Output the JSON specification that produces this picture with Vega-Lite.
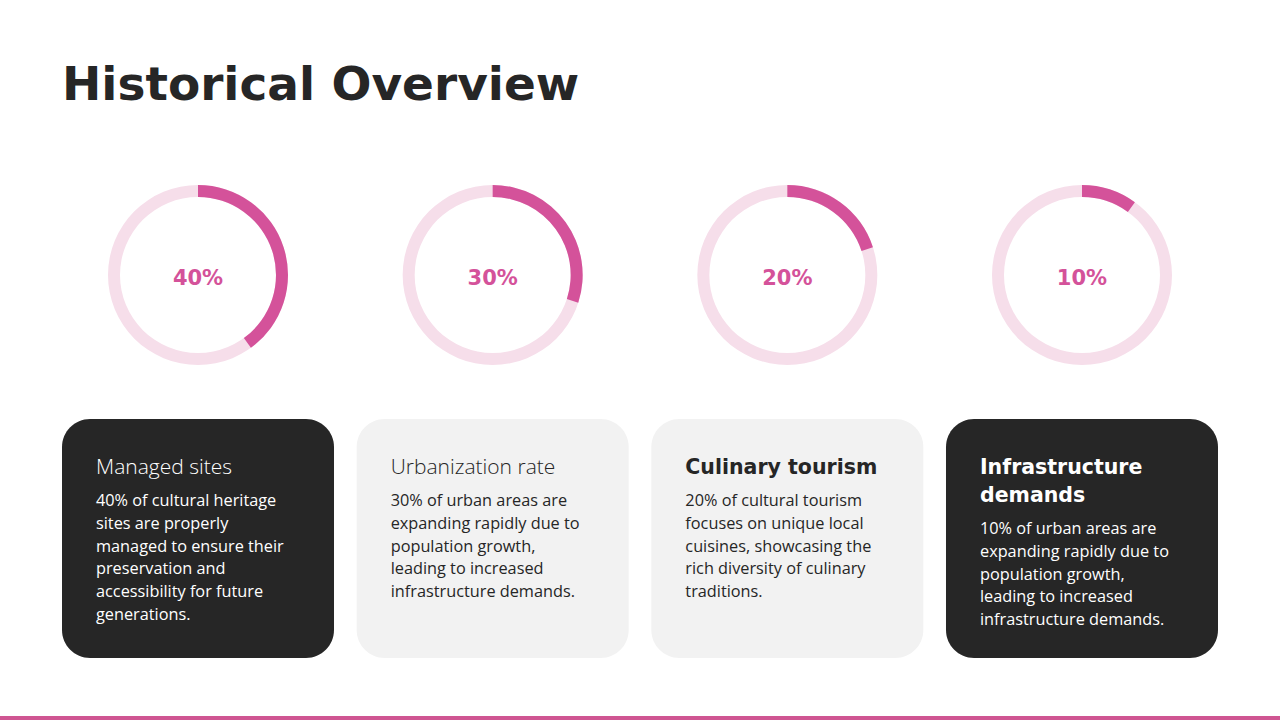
{
  "$schema": "https://vega.github.io/schema/vega-lite/v6.json",
  "width": 1280,
  "height": 720,
  "autosize": {"type": "none"},
  "padding": 0,
  "background": "#FFFFFF",
  "config": {"view": {"stroke": null}},
  "data": {
    "values": [
      {"category": "Managed sites", "pct": 40, "label": "40%", "heading": "Managed sites", "body": "40% of cultural heritage\nsites are properly\nmanaged to ensure their\npreservation and\naccessibility for future\ngenerations."},
      {"category": "Urbanization rate", "pct": 30, "label": "30%", "heading": "Urbanization rate", "body": "30% of urban areas are\nexpanding rapidly due to\npopulation growth,\nleading to increased\ninfrastructure demands."},
      {"category": "Culinary tourism", "pct": 20, "label": "20%", "heading": "Culinary tourism", "body": "20% of cultural tourism\nfocuses on unique local\ncuisines, showcasing the\nrich diversity of culinary\ntraditions."},
      {"category": "Infrastructure demands", "pct": 10, "label": "10%", "heading": "Infrastructure\ndemands", "body": "10% of urban areas are\nexpanding rapidly due to\npopulation growth,\nleading to increased\ninfrastructure demands."}
    ]
  },
  "layer": [
    {
      "transform": [{"filter": "datum.category === 'Managed sites'"}],
      "mark": {"type": "text", "text": "Historical Overview", "font": "DejaVu Sans", "fontWeight": "bold", "fontSize": 47, "align": "left", "baseline": "alphabetic", "color": "#262626"},
      "encoding": {
        "x": {"field": "category", "type": "nominal", "bandPosition": 0, "sort": null, "axis": null, "scale": {"range": [62, 1218], "paddingInner": 0.0769, "paddingOuter": 0}},
        "y": {"datum": 100, "type": "quantitative", "axis": null, "scale": {"domain": [0, 720], "reverse": true, "nice": false, "zero": false}}
      }
    },
    {
      "mark": {"type": "arc", "innerRadius": 78, "outerRadius": 90, "theta": 0, "theta2": 6.2832, "color": "#F6DEEA"},
      "encoding": {
        "x": {"field": "category", "type": "nominal", "sort": null, "axis": null},
        "y": {"datum": 275, "type": "quantitative"}
      }
    },
    {
      "mark": {"type": "arc", "innerRadius": 78, "outerRadius": 90, "color": "#D4529A"},
      "encoding": {
        "x": {"field": "category", "type": "nominal", "sort": null, "axis": null},
        "y": {"datum": 275, "type": "quantitative"},
        "theta": {"field": "pct", "type": "quantitative", "stack": null, "scale": {"domain": [0, 100], "range": [0, 6.2832]}}
      }
    },
    {
      "mark": {"type": "text", "font": "DejaVu Sans", "fontWeight": "bold", "fontSize": 21, "align": "center", "baseline": "alphabetic", "color": "#D4529A"},
      "encoding": {
        "x": {"field": "category", "type": "nominal", "sort": null, "axis": null},
        "y": {"datum": 285, "type": "quantitative"},
        "text": {"field": "label"}
      }
    },
    {
      "mark": {"type": "rect", "cornerRadius": 28},
      "encoding": {
        "x": {"field": "category", "type": "nominal", "sort": null, "axis": null},
        "y": {"datum": 419, "type": "quantitative"},
        "y2": {"datum": 658},
        "fill": {"field": "category", "type": "nominal", "legend": null, "scale": {"domain": ["Managed sites", "Urbanization rate", "Culinary tourism", "Infrastructure demands"], "range": ["#262626", "#F2F2F2", "#F2F2F2", "#262626"]}}
      }
    },
    {
      "transform": [{"filter": "datum.category === 'Managed sites' || datum.category === 'Urbanization rate'"}],
      "mark": {"type": "text", "font": "Open Sans", "fontWeight": 300, "fontSize": 21, "align": "left", "baseline": "alphabetic", "dx": 34},
      "encoding": {
        "x": {"field": "category", "type": "nominal", "bandPosition": 0, "sort": null, "axis": null},
        "y": {"datum": 474, "type": "quantitative"},
        "text": {"field": "heading"},
        "color": {"field": "category", "type": "nominal", "legend": null, "scale": {"domain": ["Managed sites", "Urbanization rate", "Culinary tourism", "Infrastructure demands"], "range": ["#FFFFFF", "#262626", "#262626", "#FFFFFF"]}}
      }
    },
    {
      "transform": [{"filter": "datum.category === 'Culinary tourism' || datum.category === 'Infrastructure demands'"}],
      "mark": {"type": "text", "font": "DejaVu Sans", "fontWeight": "bold", "fontSize": 20.5, "align": "left", "baseline": "alphabetic", "dx": 34, "lineBreak": "\n", "lineHeight": 28},
      "encoding": {
        "x": {"field": "category", "type": "nominal", "bandPosition": 0, "sort": null, "axis": null},
        "y": {"datum": 474, "type": "quantitative"},
        "text": {"field": "heading"},
        "color": {"field": "category", "type": "nominal", "legend": null}
      }
    },
    {
      "transform": [{"filter": "datum.category !== 'Infrastructure demands'"}],
      "mark": {"type": "text", "font": "Open Sans", "fontSize": 16.3, "align": "left", "baseline": "alphabetic", "dx": 34, "lineBreak": "\n", "lineHeight": 22.8},
      "encoding": {
        "x": {"field": "category", "type": "nominal", "bandPosition": 0, "sort": null, "axis": null},
        "y": {"datum": 506, "type": "quantitative"},
        "text": {"field": "body"},
        "color": {"field": "category", "type": "nominal", "legend": null}
      }
    },
    {
      "transform": [{"filter": "datum.category === 'Infrastructure demands'"}],
      "mark": {"type": "text", "font": "Open Sans", "fontSize": 16.3, "align": "left", "baseline": "alphabetic", "dx": 34, "lineBreak": "\n", "lineHeight": 22.8},
      "encoding": {
        "x": {"field": "category", "type": "nominal", "bandPosition": 0, "sort": null, "axis": null},
        "y": {"datum": 534, "type": "quantitative"},
        "text": {"field": "body"},
        "color": {"field": "category", "type": "nominal", "legend": null}
      }
    },
    {
      "data": {"values": [{"edge": "bottom"}]},
      "mark": {"type": "rect", "color": "#CF5592"},
      "encoding": {
        "y": {"datum": 716, "type": "quantitative"},
        "y2": {"datum": 720}
      }
    }
  ]
}
